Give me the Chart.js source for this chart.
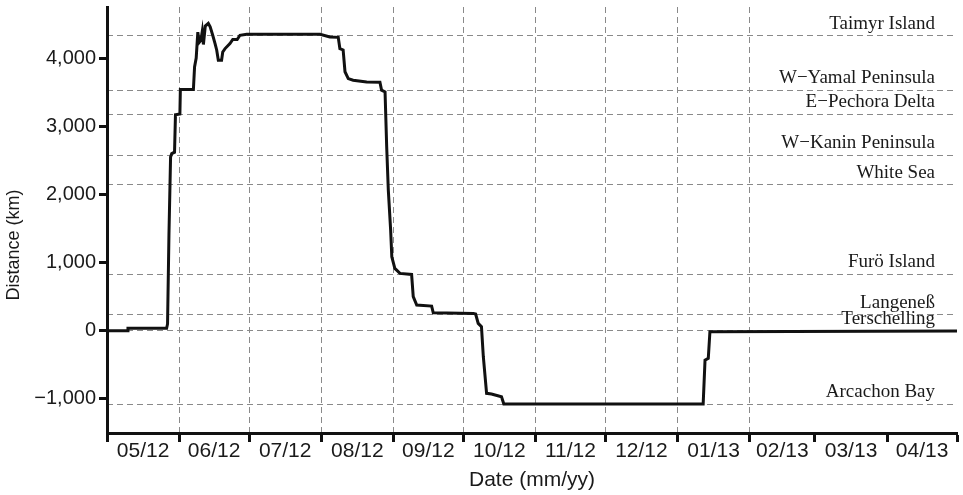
<!DOCTYPE html>
<html>
<head>
<meta charset="utf-8">
<script src="https://cdn.jsdelivr.net/npm/chart.js@4.4.1/dist/chart.umd.min.js"></script>
<style>
  html, body { margin: 0; padding: 0; background: #fff; }
  #wrap { width: 963px; height: 495px; }
</style>
</head>
<body>
<div id="wrap"><canvas id="trackChart" width="963" height="495"></canvas></div>
<script>
// days since 01 May 2012 and distance along the flyway (km)
const trackDay = [0, 8.9, 9.0, 25.6, 26.0, 26.6, 27.3, 27.8, 29.0, 29.4, 31.3, 31.5, 37.1, 37.6, 38.3, 39.0, 39.6, 40.3, 40.9, 41.4,
    42.2, 43.5, 44.3, 45.4, 46.4, 47.1, 47.8, 49.2, 49.7, 50.7, 52.8, 54.0, 55.9, 57.1, 60.0, 91.5, 95.7, 99.3, 100.0, 101.4,
    102.2, 103.6, 105.7, 111.5, 117.2, 117.9, 119.4, 120.1, 120.8, 121.8, 122.3, 123.6, 125.8, 130.8, 131.5, 133.0, 139.4, 140.1, 157.3, 158.3,
    159.4, 160.8, 161.6, 163.0, 165.1, 169.4, 170.4, 256.0, 256.8, 258.2, 258.9, 365];
const trackKm = [0, 0, 35, 35, 100, 1400, 2550, 2600, 2620, 3170, 3180, 3540, 3540, 3870, 4000, 4380, 4230, 4260, 4390, 4200,
    4470, 4510, 4460, 4335, 4214, 4120, 3970, 3970, 4090, 4140, 4214, 4273, 4273, 4335, 4350, 4350, 4310, 4305, 4140, 4120,
    3800, 3700, 3676, 3650, 3645, 3530, 3505, 2700, 2063, 1477, 1085, 915, 842, 827, 500, 377, 362, 264, 255, 245,
    108, 59, -381, -918, -928, -968, -1075, -1075, -430, -405, -15, -5];

const monthStarts = [0, 31, 61, 92, 123, 153, 184, 214, 245, 276, 304, 335, 365];
const monthLabels = ['05/12', '06/12', '07/12', '08/12', '09/12', '10/12', '11/12', '12/12', '01/13', '02/13', '03/13', '04/13'];

const yTicks = [-1000, 0, 1000, 2000, 3000, 4000];

const placeNames = ['Taimyr Island', 'W\u2212Yamal Peninsula', 'E\u2212Pechora Delta', 'W\u2212Kanin Peninsula', 'White Sea',
    'Fur\u00f6 Island', 'Langene\u00df', 'Terschelling', 'Arcachon Bay'];
const placeKm = [4330, 3530, 3180, 2575, 2145, 827, 235, 0, -1079];

const gridLastDay = 276; // vertical grid stops at 01/13
const sans = 'Liberation Sans, Arial, sans-serif';
const ink = '#1a1a1a';

const points = trackDay.map(function (d, i) { return { x: d, y: trackKm[i] }; });
const monthMids = monthLabels.map(function (m, i) { return (monthStarts[i] + monthStarts[i + 1]) / 2; });

const ctx = document.getElementById('trackChart').getContext('2d');

new Chart(ctx, {
    type: 'line',
    data: {
        datasets: [{
            data: points,
            borderColor: '#111',
            borderWidth: 3,
            pointRadius: 0,
            tension: 0,
            fill: false,
            borderJoinStyle: 'miter'
        }]
    },
    options: {
        responsive: false,
        animation: false,
        devicePixelRatio: 1,
        layout: { padding: { top: 7, right: 6, bottom: 0, left: 0 } },
        plugins: { legend: { display: false }, tooltip: { enabled: false } },
        scales: {
            x: {
                type: 'linear', position: 'bottom', weight: 0,
                min: 0, max: 365,
                afterBuildTicks: function (scale) { scale.ticks = monthStarts.map(function (v) { return { value: v }; }); },
                afterFit: function (scale) { scale.height = 9; },
                ticks: { display: false },
                grid: {
                    color: function (c) {
                        const v = c.tick ? c.tick.value : 0;
                        return (v > 0 && v <= gridLastDay) ? '#8a8a8a' : 'rgba(0,0,0,0)';
                    },
                    lineWidth: 1,
                    tickColor: '#111',
                    tickWidth: 3,
                    tickLength: 9
                },
                border: { display: true, color: '#111', width: 3, dash: [6, 4] }
            },
            xm: {
                type: 'linear', position: 'bottom', weight: 1,
                min: 0, max: 365,
                afterBuildTicks: function (scale) { scale.ticks = monthMids.map(function (v) { return { value: v }; }); },
                afterFit: function (scale) { scale.height = 53; },
                ticks: {
                    autoSkip: false, maxRotation: 0, padding: -3,
                    color: ink, font: { family: sans, size: 21 },
                    callback: function (v, i) { return monthLabels[i]; }
                },
                grid: { display: false, drawTicks: false, tickLength: 0 },
                border: { display: false },
                title: { display: true, text: 'Date (mm/yy)', color: ink, font: { family: sans, size: 21 }, padding: { top: 2, bottom: 2 } }
            },
            y: {
                type: 'linear', position: 'left',
                min: -1500, max: 4750,
                afterBuildTicks: function (scale) { scale.ticks = yTicks.map(function (v) { return { value: v }; }); },
                afterFit: function (scale) { scale.width = 107; scale.paddingTop = 0; scale.paddingBottom = 0; },
                ticks: {
                    padding: 3, color: ink, font: { family: sans, size: 20 },
                    callback: function (v) { return v.toLocaleString('en-US').replace('-', '\u2212'); }
                },
                grid: { color: 'rgba(0,0,0,0)', tickColor: '#111', tickWidth: 3, tickLength: 8 },
                border: { display: true, color: '#111', width: 3 },
                // trailing spaces push the centred title a little below the middle, as in the original
                title: { display: true, text: 'Distance (km)          ', color: ink, font: { family: sans, size: 18 }, padding: { top: 3, bottom: 0 } }
            },
            places: {
                type: 'linear', position: 'right',
                min: -1500, max: 4750,
                afterBuildTicks: function (scale) { scale.ticks = placeKm.map(function (v) { return { value: v }; }); },
                afterFit: function (scale) { scale.width = 0; scale.paddingTop = 0; scale.paddingBottom = 0; },
                ticks: {
                    mirror: true, autoSkip: false, padding: -22, labelOffset: -12,
                    color: ink, font: { family: 'Liberation Serif, Times New Roman, serif', size: 19 },
                    callback: function (v, i) { return placeNames[i]; }
                },
                grid: { color: '#8a8a8a', lineWidth: 1, drawTicks: false },
                border: { display: false, dash: [6, 4] }
            }
        }
    }
});
</script>
</body>
</html>
